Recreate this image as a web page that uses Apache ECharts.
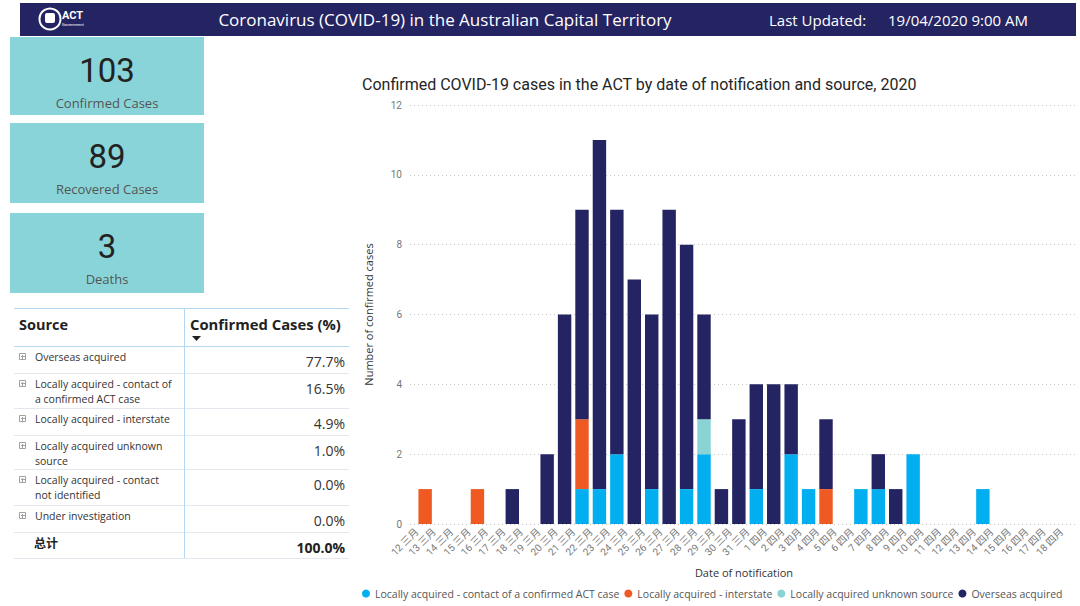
<!DOCTYPE html>
<html><head><meta charset="utf-8">
<script src="https://cdn.jsdelivr.net/npm/echarts@6/dist/echarts.min.js"></script>
<style>html,body{margin:0;padding:0;background:#fff}#c{width:1080px;height:606px}</style>
</head><body><div id="c"></div><script>
// ---- chart data ----
const categories = ['12 三月','13 三月','14 三月','15 三月','16 三月','17 三月','18 三月','19 三月','20 三月','21 三月',
  '22 三月','23 三月','24 三月','25 三月','26 三月','27 三月','28 三月','29 三月','30 三月','31 三月',
  '1 四月','2 四月','3 四月','4 四月','5 四月','6 四月','7 四月','8 四月','9 四月','10 四月',
  '11 四月','12 四月','13 四月','14 四月','15 四月','16 四月','17 四月','18 四月'];
const contactCase   = [0,0,0,0,0,0,0,0,0,0, 1,1,2,0,1,0,1,2,0,0, 1,0,2,1,0,0,1,1,0,2, 0,0,0,1,0,0,0,0];
const interstate    = [0,1,0,0,1,0,0,0,0,0, 2,0,0,0,0,0,0,0,0,0, 0,0,0,0,1,0,0,0,0,0, 0,0,0,0,0,0,0,0];
const unknownSource = [0,0,0,0,0,0,0,0,0,0, 0,0,0,0,0,0,0,1,0,0, 0,0,0,0,0,0,0,0,0,0, 0,0,0,0,0,0,0,0];
const overseas      = [0,0,0,0,0,0,1,0,2,6, 6,10,7,7,5,9,7,3,1,3, 3,4,2,0,2,0,0,1,1,0, 0,0,0,0,0,0,0,0];
const seriesNames = ['Locally acquired - contact of a confirmed ACT case','Locally acquired - interstate','Locally acquired unknown source','Overseas acquired'];
const seriesColors = ['#01AEEF','#EF5A22','#89D3D5','#252463'];
const yMin = 0, yMax = 12, yInterval = 2;

// ---- dashboard data ----
const headerTitle = 'Coronavirus (COVID-19) in the Australian Capital Territory';
const updatedLabel = 'Last Updated:';
const updatedValue = '19/04/2020 9:00 AM';
const chartTitle = 'Confirmed COVID-19 cases in the ACT by date of notification and source, 2020';
const cardValues = ['103','89','3'];
const cardLabels = ['Confirmed Cases','Recovered Cases','Deaths'];
const tableHeaders = ['Source','Confirmed Cases (%)'];
const tableSources = [['Overseas acquired'],['Locally acquired - contact of','a confirmed ACT case'],['Locally acquired - interstate'],
  ['Locally acquired unknown','source'],['Locally acquired - contact','not identified'],['Under investigation']];
const tablePercents = ['77.7%','16.5%','4.9%','1.0%','0.0%','0.0%'];
const tableTotalLabel = '总计';
const tableTotal = '100.0%';

// ---- layout (styles / positions) ----
const SEG = "'Open Sans', 'Noto Sans', sans-serif";
const DIN = "Roboto, 'Noto Sans CJK SC', sans-serif";
const cardBoxes = [[37,78],[123,80],[213,80]];
const rowTop = [346,373,408,435,469,505,532,558];
const g = [];
function txt(x, y, text, fill, font, align) {
  return {type:'text', x:x, y:y, style:{text:text, fill:fill, font:font, textAlign:align, align:align, textVerticalAlign:'middle', verticalAlign:'middle'}};
}
// header
g.push({type:'rect', shape:{x:20,y:3,width:1056,height:33}, style:{fill:'#252462'}});
g.push({type:'circle', shape:{cx:50,cy:19,r:10.5}, style:{fill:'none',stroke:'#fff',lineWidth:2}});
g.push({type:'rect', shape:{x:45,y:13,width:10,height:10,r:2}, style:{fill:'#fff'}});
g.push(txt(62, 15, 'ACT', '#fff', 'bold 11px Roboto', 'left'));
g.push(txt(62, 24, 'Government', '#fff', '4px Roboto', 'left'));
g.push(txt(445, 19, headerTitle, '#fff', '17px '+SEG, 'center'));
g.push(txt(769, 20, updatedLabel, '#fff', '15px '+SEG, 'left'));
g.push(txt(888, 20, updatedValue, '#fff', '15px '+SEG, 'left'));
// cards
cardValues.forEach((v,i)=>{
  const [top,h] = cardBoxes[i];
  g.push({type:'rect', shape:{x:10,y:top,width:194,height:h}, style:{fill:'#89D4D8'}});
  g.push(txt(107, top+33, v, '#222', '33px Roboto', 'center'));
  g.push(txt(107, top+66, cardLabels[i], '#555', '13px '+SEG, 'center'));
});
// table
g.push({type:'line', shape:{x1:14,y1:308.5,x2:349,y2:308.5}, style:{stroke:'#B5D8F2',lineWidth:1}});
g.push({type:'line', shape:{x1:14,y1:346.5,x2:349,y2:346.5}, style:{stroke:'#B5D8F2',lineWidth:1}});
for (let i=1;i<rowTop.length;i++) g.push({type:'line', shape:{x1:14,y1:rowTop[i]+0.5,x2:349,y2:rowTop[i]+0.5}, style:{stroke:'#E3E8EE',lineWidth:1}});
g.push({type:'line', shape:{x1:184.5,y1:308,x2:184.5,y2:558}, style:{stroke:'#B5D8F2',lineWidth:1}});
g.push(txt(19, 324, tableHeaders[0], '#222', 'bold 14.5px '+SEG, 'left'));
g.push(txt(190, 324, tableHeaders[1], '#222', 'bold 14.8px '+SEG, 'left'));
g.push({type:'polygon', shape:{points:[[192,336],[201,336],[196.5,341]]}, style:{fill:'#222'}});
tableSources.forEach((lines,i)=>{
  const y0 = rowTop[i]+11;
  g.push({type:'rect', shape:{x:19.5,y:y0-3.5,width:6,height:6}, style:{fill:'#fff',stroke:'#A0A0A0',lineWidth:1}});
  g.push({type:'line', shape:{x1:21,y1:y0-0.5,x2:25,y2:y0-0.5}, style:{stroke:'#A0A0A0',lineWidth:1}});
  g.push({type:'line', shape:{x1:22.5,y1:y0-2,x2:22.5,y2:y0+2}, style:{stroke:'#A0A0A0',lineWidth:1}});
  lines.forEach((t,j)=>{ g.push(txt(35, y0+j*15, t, '#333', '10.5px '+SEG, 'left')); });
  g.push(txt(345, y0+4, tablePercents[i], '#333', '14px '+SEG, 'right'));
});
g.push(txt(34, 542, tableTotalLabel, '#222', "bold 12px 'Noto Sans CJK SC'", 'left'));
g.push(txt(345, 547, tableTotal, '#222', 'bold 14px '+SEG, 'right'));

const chart = echarts.init(document.getElementById('c'), null, {renderer:'svg', width:1080, height:606});
chart.setOption({
  animation:false,
  backgroundColor:'#fff',
  title:{text:chartTitle, left:362, top:76, padding:0, textStyle:{fontSize:16, fontWeight:'normal', color:'#252525', fontFamily:DIN}},
  legend:{left:362, top:588, width:716, itemWidth:8, itemHeight:8, itemGap:5, icon:'circle', padding:0,
    data:seriesNames, textStyle:{fontSize:10.5, color:'#555', fontFamily:SEG}},
  grid:[{left:410, right:2, top:105, height:419}, {left:399, width:662.3, top:105, height:419}, {left:408, width:662.3, top:105, height:419}],
  xAxis:[
    {type:'category', gridIndex:0, data:categories, axisLine:{show:false}, axisTick:{show:false}, axisLabel:{show:false},
     name:'Date of notification', nameLocation:'middle', nameGap:43, nameTextStyle:{fontSize:11, color:'#333', fontFamily:SEG}},
    {type:'category', gridIndex:1, data:categories, axisLine:{show:false}, axisTick:{show:false}, axisLabel:{show:false}},
    {type:'category', gridIndex:2, data:categories, axisLine:{show:false}, axisTick:{show:false},
     axisLabel:{interval:0, rotate:45, margin:6, fontSize:10, color:'#777', fontFamily:DIN}}
  ],
  yAxis:[
    {type:'value', gridIndex:0, min:yMin, max:yMax, interval:yInterval,
     axisLine:{show:false}, axisTick:{show:false}, axisLabel:{margin:8, fontSize:10, color:'#777', fontFamily:DIN},
     splitLine:{lineStyle:{type:[1,3], color:'#C8C8C8', width:1}},
     name:'Number of confirmed cases', nameLocation:'middle', nameGap:36, nameTextStyle:{fontSize:11, color:'#333', fontFamily:SEG}},
    {type:'value', gridIndex:1, min:yMin, max:yMax, interval:yInterval, show:false, splitLine:{show:false}},
    {type:'value', gridIndex:2, min:yMin, max:yMax, interval:yInterval, show:false, splitLine:{show:false}}
  ],
  series:[contactCase, interstate, unknownSource, overseas].map((d,i)=>({
    name:seriesNames[i], type:'bar', stack:'cases', xAxisIndex:1, yAxisIndex:1, data:d,
    barCategoryGap:'23%', itemStyle:{color:seriesColors[i]}
  })),
  graphic:{elements:g}
});
</script></body></html>
